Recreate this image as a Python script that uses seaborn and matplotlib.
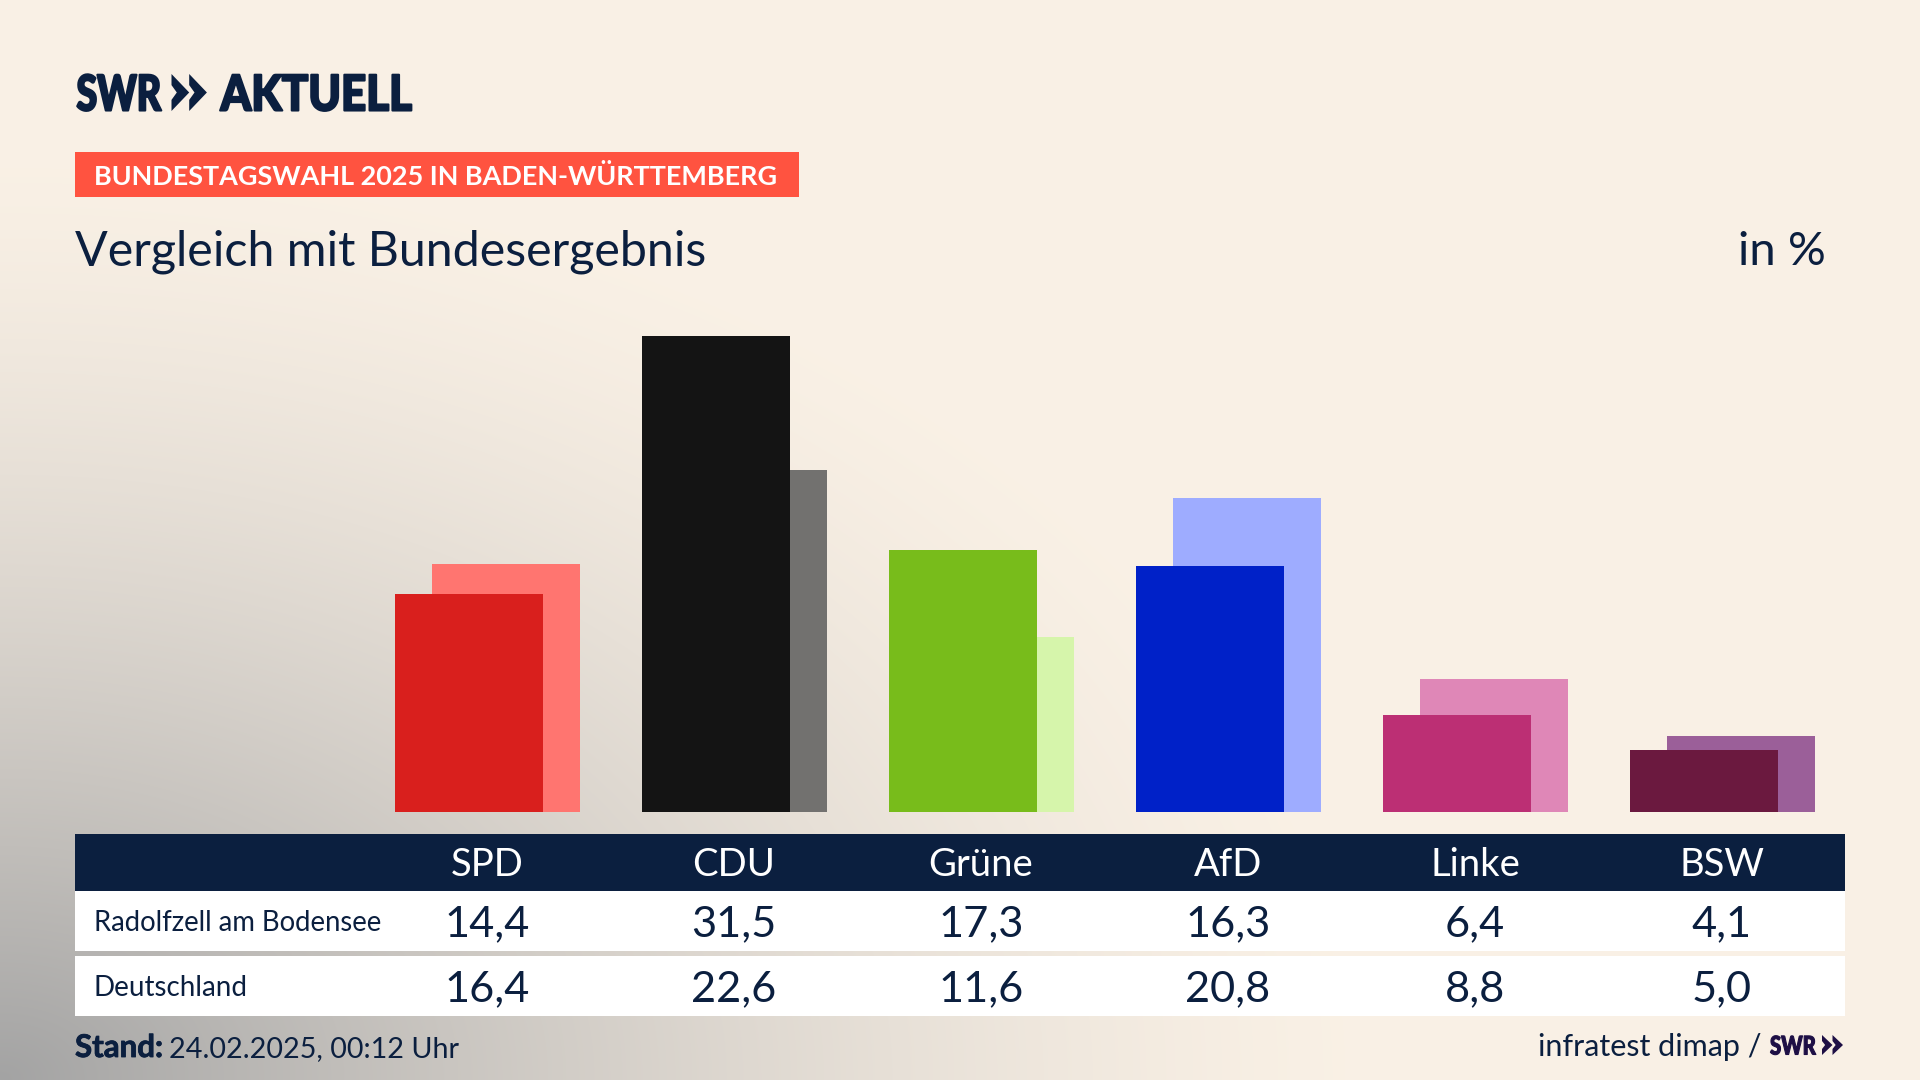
import numpy as np
import matplotlib
matplotlib.use("Agg")
import matplotlib.pyplot as plt
import matplotlib.patheffects as pe
from matplotlib.patches import Rectangle, Polygon
from matplotlib.transforms import Affine2D
import seaborn as sns

parties = ["SPD", "CDU", "Grüne", "AfD", "Linke", "BSW"]
radolfzell = [14.4, 31.5, 17.3, 16.3, 6.4, 4.1]
deutschland = [16.4, 22.6, 11.6, 20.8, 8.8, 5.0]
row_names = ["Radolfzell am Bodensee", "Deutschland"]

colors_local = ["#D91F1D", "#141414", "#78BC1B", "#0021C8", "#BC2F74", "#6B193F"]
colors_bund = ["#FF7570", "#72716F", "#D6F5AB", "#9EACFF", "#DF87B7", "#9B5F99"]

NAVY = "#0B1F3F"
W, H = 1920, 1080
PITCH = 247
BAR_W = 148
OFFSET = 37
BASE_Y = 812
PX_PER_UNIT = 15.12

sns.set_theme(style="white")
plt.rcParams["font.family"] = ["Lato", "DejaVu Sans"]

fig = plt.figure(figsize=(W / 100, H / 100), dpi=100)


class Squeeze(pe.AbstractPathEffect):
    # narrows a text horizontally and thickens it, no condensed logo font is installed
    def __init__(self, sx, stroke, color):
        super().__init__()
        self.sx = sx
        self.stroke = stroke
        self.color = color

    def draw_path(self, renderer, gc, tpath, affine, rgbFace=None):
        gc0 = renderer.new_gc()
        gc0.copy_properties(gc)
        gc0.set_foreground(self.color)
        gc0.set_linewidth(self.stroke)
        renderer.draw_path(gc0, tpath, Affine2D().scale(self.sx, 1) + affine, rgbFace)
        gc0.restore()


def px_axes(left, top, right, bottom, z):
    a = fig.add_axes([left / W, 1 - bottom / H, (right - left) / W, (bottom - top) / H], zorder=z)
    a.patch.set_alpha(0)
    return a


# background
bg = px_axes(0, 0, W, H, 0)
xx, yy = np.meshgrid(np.linspace(0, W, 480), np.linspace(0, H, 270))
d = np.sqrt((xx / 1400) ** 2 + ((H - yy) / 950) ** 2)
t = np.clip(1 - d, 0, 1) ** 1.5
cream = np.array([0.98, 0.945, 0.90])
gray = np.array([0.64, 0.64, 0.64])
img = cream[None, None, :] * (1 - t[..., None]) + gray[None, None, :] * t[..., None]
bg.imshow(img, extent=(0, W, H, 0), aspect="auto", interpolation="bilinear")
bg.axis("off")


def bars(values, palette, shift, z):
    # first category centre sits at 468.5 px, the bund bars are shifted right
    left = 468.5 - PITCH / 2 + shift
    a = px_axes(left, 240, left + 6 * PITCH, BASE_Y, z)
    sns.barplot(x=parties, y=values, hue=parties, hue_order=parties, palette=palette,
                width=BAR_W / PITCH, saturation=1, legend=False, linewidth=0, ax=a)
    a.set_xlim(-0.5, 5.5)
    a.set_ylim(0, (BASE_Y - 240) / PX_PER_UNIT)
    a.axis("off")
    return a


bars(deutschland, colors_bund, OFFSET, 1)
bars(radolfzell, colors_local, 0, 2)

# overlay in pixel coords for header, table and footer
ov = px_axes(0, 0, W, H, 3)
ov.set_xlim(0, W)
ov.set_ylim(H, 0)
ov.axis("off")


def chevrons(x0, top, bottom, w, color):
    mid = (top + bottom) / 2
    h = bottom - top
    for i in range(2):
        x = x0 + i * w
        ov.add_patch(Polygon([(x, top), (x + w, mid), (x, bottom), (x, bottom - 0.3 * h),
                              (x + 0.3 * w, mid), (x, top + 0.3 * h)], closed=True, fc=color, ec="none"))


def logo_text(x, y, s, size, color, sx, stroke):
    ov.text(x, y, s, fontsize=size, fontweight="black", color=color, va="baseline",
            path_effects=[Squeeze(sx, stroke, color)])


logo_text(76.5, 110.5, "SWR", 35.5, NAVY, 0.76, 1.5)
chevrons(171.5, 74, 111, 17.7, NAVY)
logo_text(220.5, 110.5, "AKTUELL", 35.5, NAVY, 0.89, 1.5)

ov.add_patch(Rectangle((75, 152), 724, 45, fc="#FF5340", ec="none"))
ov.text(94, 185, "BUNDESTAGSWAHL 2025 IN BADEN-WÜRTTEMBERG", fontsize=19.45, fontweight="bold",
        color="white", va="baseline")
ov.text(75, 265, "Vergleich mit Bundesergebnis", fontsize=34.8, color=NAVY, va="baseline")
ov.text(1826, 265, "in %", fontsize=34, color=NAVY, va="baseline", ha="right")

# table
ov.add_patch(Rectangle((75, 834), 1770, 57, fc=NAVY, ec="none"))
ov.add_patch(Rectangle((75, 891), 1770, 60, fc="white", ec="none"))
ov.add_patch(Rectangle((75, 956), 1770, 60, fc="white", ec="none"))
for i, p in enumerate(parties):
    cx = 487 + i * PITCH
    ov.text(cx, 876, p, fontsize=27.5, color="white", ha="center", va="baseline")
    ov.text(cx, 936, f"{radolfzell[i]:.1f}".replace(".", ","), fontsize=31.2, color=NAVY, ha="center", va="baseline")
    ov.text(cx, 1001, f"{deutschland[i]:.1f}".replace(".", ","), fontsize=31.2, color=NAVY, ha="center", va="baseline")
ov.text(94, 931, row_names[0], fontsize=19.8, color=NAVY, va="baseline")
ov.text(94, 996, row_names[1], fontsize=20, color=NAVY, va="baseline")

# footer
ov.text(75, 1057, "Stand:", fontsize=22.5, fontweight="bold", color=NAVY, va="baseline",
        path_effects=[pe.withStroke(linewidth=0.6, foreground=NAVY)])
ov.text(169, 1057, "24.02.2025, 00:12 Uhr", fontsize=20.7, color=NAVY, va="baseline")
ov.text(1761, 1056, "infratest dimap /", fontsize=22, color=NAVY, va="baseline", ha="right")
logo_text(1770, 1054.5, "SWR", 18.5, "#1E0F45", 0.79, 0.8)
chevrons(1822, 1035, 1055, 10.5, "#1E0F45")

fig.savefig("out.png", dpi=100)
